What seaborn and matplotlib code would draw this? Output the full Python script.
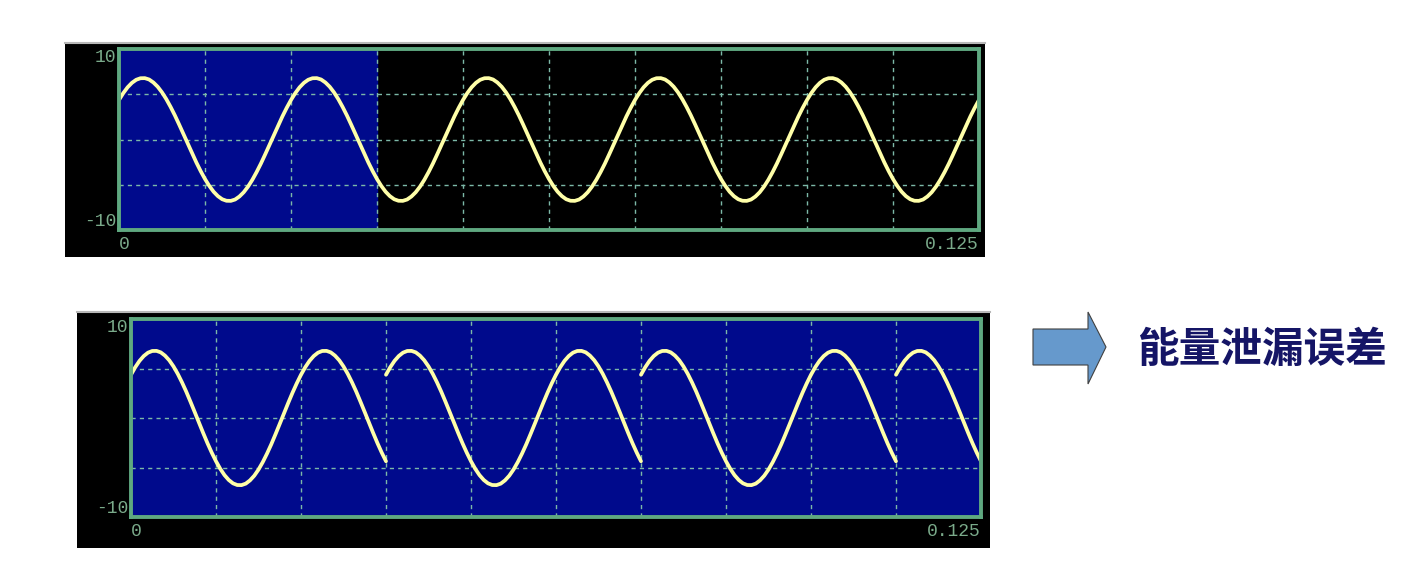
import numpy as np
import pandas as pd
import matplotlib
matplotlib.use("Agg")
import matplotlib.pyplot as plt
from matplotlib.patches import Polygon
import seaborn as sns

# one period of the 40 Hz signal, 40 samples (units = volts)
one_period = [4.37, 5.13, 5.77, 6.26, 6.60, 6.77, 6.78, 6.63, 6.30, 5.83,
              5.21, 4.46, 3.60, 2.66, 1.64, 0.59, -0.47, -1.53, -2.55, -3.50,
              -4.37, -5.13, -5.77, -6.26, -6.60, -6.77, -6.78, -6.63, -6.30, -5.83,
              -5.21, -4.46, -3.60, -2.66, -1.64, -0.59, 0.47, 1.53, 2.55, 3.50]
n_periods = 5
t_end = 0.125
window_len = 0.0375          # truncated record (1.5 periods), highlighted in blue
x_ticks = [0, 0.125]
x_labels = ["0", "0.125"]
y_ticks = [-10, 10]
y_labels = ["-10", "10"]
title_text = "能量泄漏误差"

# colours
NAVY = "#000a8c"
FRAME = "#5fa880"
GRID = "#7cb8a8"
TRACE = "#ffffa8"
LABEL = "#7aaa8a"

n = len(one_period) * n_periods
dt = t_end / n
full_wave = np.array(one_period * n_periods + one_period[:1])
t_full = np.arange(n + 1) * dt
top_df = pd.DataFrame({"t": t_full, "v": full_wave})

# bottom: the 1.5-period record repeated over the whole window
seg_n = int(round(window_len / dt))
rows = []
seg = 0
start = 0
while start < n:
    for k in range(seg_n + 1):
        if start + k > n:
            break
        rows.append((seg, (start + k) * dt, full_wave[k]))
    start += seg_n
    seg += 1
bot_df = pd.DataFrame(rows, columns=["seg", "t", "v"])

sns.set_style("white")
plt.rcParams["font.family"] = ["Noto Sans CJK SC", "DejaVu Sans"]

W, H = 1426, 568
fig = plt.figure(figsize=(W / 100, H / 100), dpi=100)
fig.patch.set_facecolor("white")


def fig_rect(x0, y0, x1, y1):
    # pixel box -> figure fraction
    return [x0 / W, 1 - y1 / H, (x1 - x0) / W, (y1 - y0) / H]


def black_bg(box):
    bg = fig.add_axes(fig_rect(*box))
    bg.set_facecolor("black")
    bg.set_xticks([])
    bg.set_yticks([])
    for s in ["left", "right", "bottom"]:
        bg.spines[s].set_visible(False)
    bg.spines["top"].set_color("#b8b8b8")
    bg.spines["top"].set_linewidth(1.5)
    return bg


def scope_axes(box, face):
    ax = fig.add_axes(fig_rect(*box))
    ax.set_facecolor(face)
    ax.set_xlim(0, t_end)
    ax.set_ylim(-10, 10)
    ax.set_xticks(x_ticks)
    ax.set_xticklabels(x_labels)
    ax.set_yticks(y_ticks)
    ax.set_yticklabels(y_labels)
    ax.set_xticks(np.arange(1, 10) * t_end / 10, minor=True)
    ax.set_yticks([-5, 0, 5], minor=True)
    ax.grid(False)
    ax.grid(which="minor", color=GRID, linestyle=(0, (3, 3)), linewidth=1.0)
    ax.tick_params(which="both", length=0, colors=LABEL, labelsize=13)
    ax.tick_params(axis="y", pad=2)
    ax.tick_params(axis="x", pad=4)
    for lab in ax.get_xticklabels() + ax.get_yticklabels():
        lab.set_fontfamily("Liberation Mono")
    xl = ax.get_xticklabels()
    xl[0].set_ha("left")
    xl[1].set_ha("right")
    yl = ax.get_yticklabels()
    yl[0].set_va("bottom")
    yl[1].set_va("top")
    for s in ax.spines.values():
        s.set_color(FRAME)
        s.set_linewidth(2.8)
        s.set_zorder(5)
    return ax


# top panel
black_bg((65, 43, 985, 257))
ax1 = scope_axes((119, 49, 979, 230), "black")
ax1.axvspan(0, window_len, color=NAVY, zorder=0)
sns.lineplot(data=top_df, x="t", y="v", ax=ax1, color=TRACE, linewidth=2.7,
             estimator=None, zorder=3)
ax1.set_xlabel("")
ax1.set_ylabel("")

# bottom panel
black_bg((77, 312, 990, 548))
ax2 = scope_axes((131, 319, 981, 517), NAVY)
sns.lineplot(data=bot_df, x="t", y="v", units="seg", ax=ax2, color=TRACE,
             linewidth=2.7, estimator=None, zorder=3)
ax2.set_xlabel("")
ax2.set_ylabel("")

# arrow + label
arrow_px = [(1033, 329), (1088, 329), (1088, 312), (1106, 347),
            (1088, 384), (1088, 365), (1033, 365)]
arrow = Polygon([(x / W, 1 - y / H) for x, y in arrow_px], closed=True,
                transform=fig.transFigure, facecolor="#6699cc",
                edgecolor="#404040", linewidth=0.8)
fig.add_artist(arrow)
fig.text(1137 / W, 1 - 350 / H, title_text, fontsize=30, fontweight="bold",
         color="#151566", ha="left", va="center",
         family=["Noto Sans CJK SC", "DejaVu Sans"])

fig.savefig("out.png", dpi=100)
